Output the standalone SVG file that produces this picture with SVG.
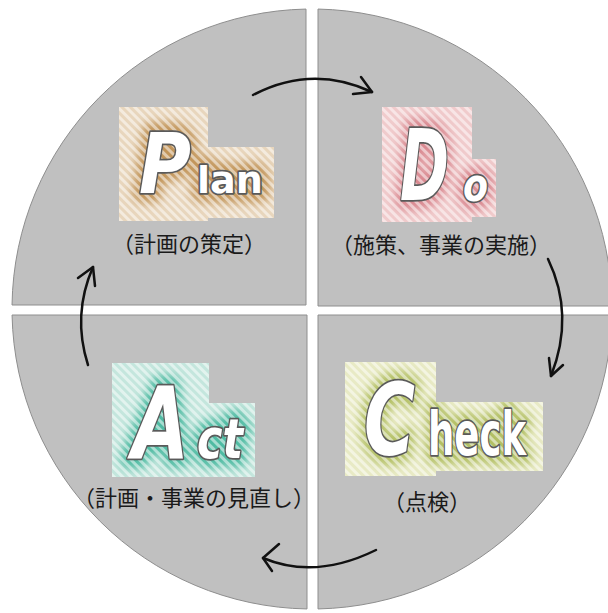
<svg xmlns="http://www.w3.org/2000/svg" width="608" height="613" viewBox="0 0 608 613">
<style>
.q{fill:#c0c0c0;stroke:#8e8e8e;stroke-width:1}
.arc{fill:none;stroke:#111;stroke-width:2.5;stroke-linecap:round;stroke-linejoin:round}
.big{font-family:"DejaVu Sans","Liberation Sans",sans-serif;font-weight:bold;fill:#fff;stroke:#5a5a5a;stroke-width:3.5;paint-order:stroke;stroke-linejoin:round}
.glow{font-family:"DejaVu Sans","Liberation Sans",sans-serif;font-weight:bold;stroke-width:20;stroke-linejoin:round}
.jp{font-family:"Noto Sans CJK JP","Noto Sans CJK SC",sans-serif;font-size:22px;fill:#1a1a1a;text-anchor:middle}
</style>
<defs>
<pattern id="stripes" patternUnits="userSpaceOnUse" width="6" height="6" patternTransform="rotate(-45)">
<rect x="0" y="0" width="3" height="6" fill="#fff" fill-opacity="0.5"/>
</pattern>
<filter id="blur" x="-30%" y="-30%" width="160%" height="160%">
<feGaussianBlur stdDeviation="5"/>
</filter>
<clipPath id="cPlan"><path d="M119,107 H208 V147 H274 V218 H208 V221 H119 Z"/></clipPath>
<clipPath id="cDo"><path d="M382,107 H472 V159 H496 V217 H472 V222 H382 Z"/></clipPath>
<clipPath id="cCheck"><path d="M345,362 H436 V402 H543 V471 H436 V476 H345 Z"/></clipPath>
<clipPath id="cAct"><path d="M112,363 H209 V403 H255 V477 H112 Z"/></clipPath>
</defs>
<rect width="608" height="613" fill="#fff"/>
<g id="quadrants">
<path class="q" d="M306,305 L12.03,305 A300,300 0 0 1 306,9.06 Z"/>
<path class="q" d="M318,306 L318,9.06 A300,300 0 0 1 611.98,306 Z"/>
<path class="q" d="M307,315 L307,608.96 A300,300 0 0 1 12.06,315 Z"/>
<path class="q" d="M318,315 L611.94,315 A300,300 0 0 1 318,608.94 Z"/>
</g>
<g id="connectors">
<path class="arc" d="M253,95 Q312,64 372,92"/>
<polyline class="arc" points="361,77 372,92 353,94"/>
<path class="arc" d="M548,259 Q575,315 551,376"/>
<polyline class="arc" points="549,358 551,376 563,365"/>
<path class="arc" d="M376,550 Q315,580 263,558"/>
<polyline class="arc" points="279,544 263,558 272,571"/>
<path class="arc" d="M88,365 Q72,315 93,267"/>
<polyline class="arc" points="78,278 93,267 95,286"/>
</g>
<g id="node-plan">
<path d="M119,107 H208 V147 H274 V218 H208 V221 H119 Z" fill="#e8d6bd"/>
<g clip-path="url(#cPlan)"><g filter="url(#blur)" fill="#c2955a" stroke="#c2955a">
<text class="glow" x="139" y="193" font-size="84" font-style="italic" textLength="52" lengthAdjust="spacingAndGlyphs">P</text>
<text class="glow" x="197" y="193" font-size="38" textLength="66" lengthAdjust="spacingAndGlyphs">lan</text>
</g></g>
<path d="M119,107 H208 V147 H274 V218 H208 V221 H119 Z" fill="url(#stripes)"/>
<text class="big" x="139" y="193" font-size="84" font-style="italic" textLength="52" lengthAdjust="spacingAndGlyphs">P</text>
<text class="big" x="197" y="193" font-size="38" textLength="66" lengthAdjust="spacingAndGlyphs">lan</text>
<text class="jp" x="189" y="252">（計画の策定）</text>
</g>
<g id="node-do">
<path d="M382,107 H472 V159 H496 V217 H472 V222 H382 Z" fill="#f0cbcc"/>
<g clip-path="url(#cDo)"><g filter="url(#blur)" fill="#d98890" stroke="#d98890">
<text class="glow" x="400" y="200" font-size="98" font-style="italic" textLength="49" lengthAdjust="spacingAndGlyphs">D</text>
<text class="glow" x="463" y="201" font-size="46" font-style="italic" textLength="25" lengthAdjust="spacingAndGlyphs">o</text>
</g></g>
<path d="M382,107 H472 V159 H496 V217 H472 V222 H382 Z" fill="url(#stripes)"/>
<text class="big" x="400" y="200" font-size="98" font-style="italic" textLength="49" lengthAdjust="spacingAndGlyphs">D</text>
<text class="big" x="463" y="201" font-size="46" font-style="italic" textLength="25" lengthAdjust="spacingAndGlyphs">o</text>
<text class="jp" x="441" y="253">（施策、事業の実施）</text>
</g>
<g id="node-check">
<path d="M345,362 H436 V402 H543 V471 H436 V476 H345 Z" fill="#e8eac5"/>
<g clip-path="url(#cCheck)"><g filter="url(#blur)" fill="#b3c065" stroke="#b3c065">
<text class="glow" x="364" y="455" font-size="100" font-style="italic" textLength="51" lengthAdjust="spacingAndGlyphs">C</text>
<text class="glow" x="428" y="455" font-size="60" textLength="98" lengthAdjust="spacingAndGlyphs">heck</text>
</g></g>
<path d="M345,362 H436 V402 H543 V471 H436 V476 H345 Z" fill="url(#stripes)"/>
<text class="big" x="364" y="455" font-size="100" font-style="italic" textLength="51" lengthAdjust="spacingAndGlyphs">C</text>
<text class="big" x="428" y="455" font-size="60" textLength="98" lengthAdjust="spacingAndGlyphs">heck</text>
<text class="jp" x="427" y="510">（点検）</text>
</g>
<g id="node-act">
<path d="M112,363 H209 V403 H255 V477 H112 Z" fill="#c4e6dd"/>
<g clip-path="url(#cAct)"><g filter="url(#blur)" fill="#4fbba3" stroke="#4fbba3">
<text class="glow" x="132" y="458" font-size="100" font-style="italic" textLength="57" lengthAdjust="spacingAndGlyphs">A</text>
<text class="glow" x="197" y="458" font-size="55" font-style="italic" textLength="46" lengthAdjust="spacingAndGlyphs">ct</text>
</g></g>
<path d="M112,363 H209 V403 H255 V477 H112 Z" fill="url(#stripes)"/>
<text class="big" x="132" y="458" font-size="100" font-style="italic" textLength="57" lengthAdjust="spacingAndGlyphs">A</text>
<text class="big" x="197" y="458" font-size="55" font-style="italic" textLength="46" lengthAdjust="spacingAndGlyphs">ct</text>
<text class="jp" x="194" y="506">（計画・事業の見直し）</text>
</g>
</svg>
